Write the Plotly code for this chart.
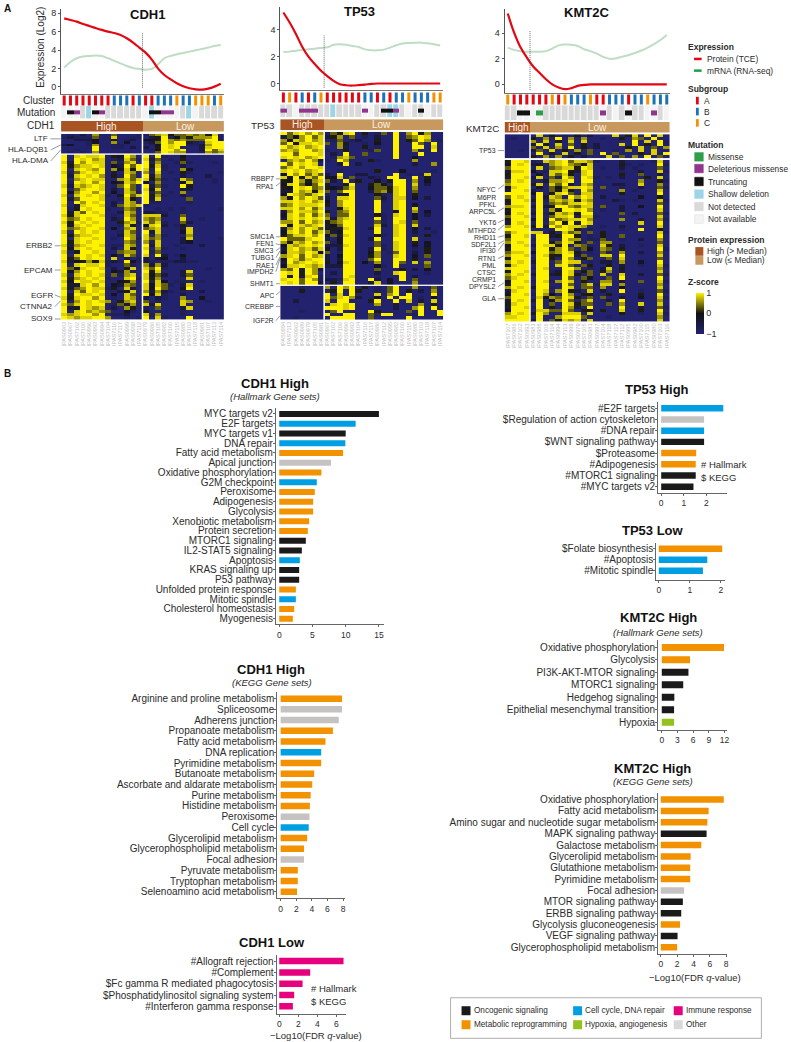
import plotly.graph_objects as go

W, H = 791, 1042

# ------------------------- DATA -------------------------
cdh1_samples = ["IPAS0963","IPAS0967","IPAS7102","IPAS7106","IPAS0996","IPAS0993","IPAS0994","IPAS7104","IPAS7116","IPAS7117","IPAS0999","IPAS0998","IPAS7112",
                "IPAS0979","IPAS0986","IPAS7105","IPAS0982","IPAS7100","IPAS7115","IPAS0980","IPAS7103","IPAS7118","IPAS0981","IPAS7107","IPAS7113","IPAS7114"]
tp53_samples = ["IPAS0994","IPAS7113","IPAS0963","IPAS0989","IPAS0979","IPAS7105","IPAS0981",
                "IPAS0967","IPAS7102","IPAS7106","IPAS0996","IPAS0993","IPAS7104","IPAS7116","IPAS7117","IPAS0986","IPAS7112","IPAS0995","IPAS0982","IPAS7100","IPAS7115","IPAS0980","IPAS7103","IPAS7118","IPAS7107","IPAS7114"]
kmt2c_samples = ["IPAS7107","IPAS0986","IPAS7102","IPAS0993",
                 "IPAS0983","IPAS0988","IPAS7106","IPAS7114","IPAS0994","IPAS7113","IPAS0999","IPAS0979","IPAS7105","IPAS0981","IPAS0997","IPAS7104","IPAS7118","IPAS7117","IPAS7112","IPAS0995","IPAS0982","IPAS7100","IPAS7115","IPAS0980","IPAS7103","IPAS7116"]

cdh1_protein = [7.46,7.28,7.1,6.85,6.63,6.41,6.2,6.01,5.87,5.65,5.29,4.82,4.28,3.73,2.97,1.99,1.3,0.83,0.4,0.07,-0.14,-0.25,-0.29,-0.18,0.04,0.36]
cdh1_mrna = [2.1,2.72,3.12,3.3,3.37,3.41,3.37,3.12,2.83,2.57,2.28,2.07,1.96,1.88,1.96,2.46,3.12,3.37,3.55,3.7,3.84,3.99,4.13,4.28,4.46,4.57]
tp53_protein = [5.3,4.55,3.7,2.75,2.0,1.45,0.95,0.55,0.2,-0.05,-0.13,-0.15,-0.12,-0.08,-0.03,0,0,0,0,0,0,0,0,0,0,0]
tp53_mrna = [2.36,2.38,2.45,2.5,2.55,2.6,2.65,2.7,2.9,2.93,2.9,2.8,2.72,2.55,2.48,2.48,2.53,2.68,2.85,2.98,3.03,3.05,3.05,3.0,2.93,2.83]
kmt2c_protein = [5.55,4.05,2.9,2.1,1.4,0.9,0.4,0,-0.25,-0.38,-0.3,-0.12,-0.05,0,0,0,0,0,0,0,0,0,0,0,0,0]
kmt2c_mrna = [2.88,2.7,2.6,2.55,2.55,2.55,2.6,2.8,3.05,3.12,3.1,3.0,2.75,2.6,2.4,2.15,2.0,2.03,2.17,2.3,2.45,2.65,2.88,3.15,3.47,3.87]

cdh1_cluster = "AAAAAAAABBBABAABBBCBBCCCBC"
tp53_cluster = "ACABABCAAAAAABBABABBCBBBCC"
kmt2c_cluster = "CAAAAAACACBBBCAABBBABBCBBB"

cdh1_mut_base = "WWWGLWWGGGGGGWLWWWWGLWGGGG"
cdh1_mut = ".TD..TD.......TTDD........"
tp53_mut_base = "GGWGGGGGLGGGGWWGGLLGWGGWGG"
tp53_mut = "D..DDD.......D..TTD...T..."
kmt2c_mut_base = "GGWWWWGGGGGGGGGWGWGWGGWWGW"
kmt2c_mut = "..TT.M.........D...T...D.."

# heat rows: digits 1 (navy, z=-1) .. 5 (black, z~0) .. 9 (yellow, z=+1)
cdh1_heat_top = [
"1213171161112 2678566767581","2322261181122 1359246577792","1133341151231 4459767666992",
"1111241171411 2369799321899","3411271122111 1249899223799","1111191122131 3159891113899",
"1121191111111 1249979113968","1212171111211 1169877112767"]
cdh1_heat_bot = [
"9189889 154 971 919 211 411 111 1","9198978 123 862 836 121 511 111 1","8397988 162 781 927 112 621 112 1",
"9578898 143 969 958 211 311 111 1","9189879 174 859 829 211 741 111 1","8268989 131 871 718 121 521 111 2",
"9389897 152 961 937 111 311 131 1","9178988 117 868 856 212 861 112 1","9298979 143 879 417 111 481 112 1",
"8387898 126 961 936 211 951 111 1","9168998 131 861 848 111 331 111 1","9479979 141 872 926 121 711 111 1",
"8189898 215 968 957 211 311 111 1","9369998 112 851 938 111 161 111 1","9197989 131 871 922 111 121 111 1",
"8138998 136 878 211 111 111 111 1","9259899 211 761 112 121 211 111 2","9386989 113 871 332 211 211 111 1",
"8589998 121 861 888 311 611 111 1","9679899 132 971 767 111 811 211 1","8598989 115 782 868 211 631 111 1",
"9389899 112 851 489 312 511 111 1","9678998 141 781 678 111 381 111 1","8198989 112 861 938 111 481 111 1",
"9578899 113 871 817 211 171 111 1","9189989 121 972 867 111 381 111 2","9589899 111 761 728 111 341 111 1",
"8378998 122 871 938 112 111 311 1","9489899 131 851 817 211 211 111 1","8259989 116 771 926 111 111 111 1",
"9189898 142 861 819 312 411 111 1","9569899 181 312 313 411 311 111 1","8345758 232 942 321 223 322 111 1",
"9289889 211 621 737 311 111 111 1","9658998 131 581 869 211 111 121 1","9479899 143 721 958 111 381 111 1",
"8289898 162 781 846 311 361 111 1","9578989 211 892 857 111 281 111 1","8498898 114 571 928 412 211 211 1",
"9338979 143 761 848 621 381 111 1","8567988 251 831 849 611 491 111 1","9186989 113 581 737 321 211 311 1",
"9398898 141 861 948 211 311 111 1","8589979 121 871 313 211 711 411 1","9279898 715 781 612 111 871 121 1",
"8689899 126 371 838 111 811 111 1","9359878 131 751 216 111 381 111 1","9189787 611 421 511 111 211 111 1",
"8789979 122 311 827 111 211 111 1","9878899 711 212 918 211 191 111 1"]
tp53_heat_top = [
"9689797 2658915126191795711","3647968 3571612131191679811","7487978 1261231151191569712","6958898 6175112141191196191",
"9789789 1173115121191199181","7879978 2115111261191171191","9969998 1319116111191119111","8989789 1278611111191141111",
"1787973 2197111521111171111","9698981 1139131111111131171","6897998 1111111111111111111","8989789 1121111151114111121",
"4979686 3191133111191212811","8495869 4481611321991191511","5497578 6319151141599171411","4896469 3125911565199181311",
"5498967 5436811466589171111","3397858 6169911367589161111","4987689 2135911152189151111","7497986 3188911163188141311",
"8898978 4179911192189111111","6798889 5179911191189141111","8897968 1158911191189181111","3798879 5167911191159171411",
"4897968 6166911152189141311","3898989 7378911192199141111","7796978 5679911162198161111","9498789 3469911183189181111",
"3797986 5538911391189141311","4897968 6349911191189131121","5688979 4638911152189121511","9666899 3149911391199181111",
"7587978 6249911161189151411","4878989 3338911162189141411","3897868 4139911392189121511","4887984 6129911471269131511",
"7896978 3149911571189141611","4986899 3139911691199151111","3978989 5148914171196181711","4889878 3339911142191111611",
"7693973 1119911161115131411","9895971 1319911131189111211","9393892 1119811121119131111","8996972 3328911931419161111",
"9896993 1519911381411171111"]
tp53_heat_bot = [
"1112111 7197915121691171161","1115111 1591951121691513171","1111111 9181911181791911191","1111111 9689731141919912141",
"1131111 8199111591191813181","1111111 1898911171131117151","1111111 9998911111131179191","1112111 1691111951111619119",
"1111111 9119911619911129119","1121111 1999911611111911111"]
kmt2c_heat_top = [
"1111 1815121513111815819181","1211 5171917171121151761911","1111 7181518181111111918192","1111 3951816151311181915192",
"1111 6181719151311115181617","1121 3618151716111217181811","1111 1915181516191611151819","1111 5171715131118161719161"]
kmt2c_heat_bot = [
"5998 2187896887 2111311112 81","4989 3517897658 1111521211 92","6999 2816788598 1211312111 61","3889 4128895389 1111211311 82",
"5999 1518685189 1111511611 31","3998 3816297198 2121311151 81","6989 2137789199 1111111711 52","7999 5818693187 1113311811 71",
"4899 1516478898 1611211311 62","3998 3116585197 1111712111 81","9999 4915896188 1111511111 91","6989 2938719798 1311111411 51",
"5998 5927878387 1113212111 82","3999 1916768898 1111111111 61","7889 3935997688 1611311411 91","5999 2917599897 1211311111 81",
"4989 3925878599 1111613111 62","6998 1916889288 2111111111 81","5999 4929678897 1111711311 72","3989 2917959398 1111111811 91",
"7998 5939798871 1211311111 81","9999 1112998512 1111211911 51","6899 8815186716 1511111111 82","5998 1993599512 1511611111 91",
"6999 2991197712 2611211311 71","7989 1995698516 1771111111 61","4998 3988591762 1851311211 81","5999 1995796164 1761511111 92",
"6889 4996798512 1621711311 71","7998 1985599361 1881911111 81","5999 2995197156 1161811111 61","7989 3991698812 1331711411 91",
"4899 1991896165 1151311211 82","8999 2981199712 1381511111 71","5998 1992398156 1571311111 81","7989 3993598516 1811811311 62",
"6899 1991196164 1161911111 91","4998 2982798151 1771311611 82","5999 1991196168 2881711111 71","7989 5992198166 1711411111 81",
"3899 1981795318 1311911211 62","4998 2974197155 1151111511 91","6999 1857698516 1611311411 82","3989 3914796168 1131911111 71",
"5899 1916198566 1161711811 81","3998 2915197319 1111911311 62","4999 1886696155 1511811511 91","7989 5971188818 1111511211 82",
"8899 1911799961 1121111111 71","9999 3916587818 1111111111 81"]

h1_labels = ["MYC targets v2","E2F targets","MYC targets v1","DNA repair","Fatty acid metabolism","Apical junction","Oxidative phosphorylation","G2M checkpoint","Peroxisome","Adipogenesis","Glycolysis","Xenobiotic metabolism","Protein secretion","MTORC1 signaling","IL2-STAT5 signaling","Apoptosis","KRAS signaling up","P53 pathway","Unfolded protein response","Mitotic spindle","Cholesterol homeostasis","Myogenesis"]
h1_values = [15.0,11.5,10.0,9.95,9.6,7.8,6.35,5.65,5.35,5.1,5.1,4.5,4.3,4.0,3.4,3.1,3.0,3.0,2.5,2.5,2.25,2.05]
h1_groups = "OCOCMXMCMMMMMOOCOOMCMM"
k1_labels = ["Arginine and proline metabolism","Spliceosome","Adherens junction","Propanoate metabolism","Fatty acid metabolism","DNA replication","Pyrimidine metabolism","Butanoate metabolism","Ascorbate and aldarate metabolism","Purine metabolism","Histidine metabolism","Peroxisome","Cell cycle","Glycerolipid metabolism","Glycerophospholipid metabolism","Focal adhesion","Pyruvate metabolism","Tryptophan metabolism","Selenoamino acid metabolism"]
k1_values = [7.87,7.87,7.45,6.7,5.75,5.2,5.2,4.3,4.05,3.85,3.75,3.7,3.6,3.4,3.0,3.0,2.2,2.2,2.1]
k1_groups = "MXXMMCMMMMMXCMMXMMM"
l1_labels = ["#Allograft rejection","#Complement","$Fc gamma R mediated phagocytosis","$Phosphatidylinositol signaling system","#Interferon gamma response"]
l1_values = [6.75,3.25,2.45,1.57,1.43]
l1_groups = "IIIII"
t_h_labels = ["#E2F targets","$Regulation of action cytoskeleton","#DNA repair","$WNT signaling pathway","$Proteasome","#Adipogenesis","#MTORC1 signaling","#MYC targets v2"]
t_h_values = [2.75,1.9,1.9,1.9,1.55,1.53,1.53,1.43]
t_h_groups = "CXCOMMOO"
t_l_labels = ["$Folate biosynthesis","#Apoptosis","#Mitotic spindle"]
t_l_values = [2.04,1.56,1.42]
t_l_groups = "MCC"
kh_labels = ["Oxidative phosphorylation","Glycolysis","PI3K-AKT-MTOR signaling","MTORC1 signaling","Hedgehog signaling","Epithelial mesenchymal transition","Hypoxia"]
kh_values = [11.9,5.4,5.1,4.1,2.4,2.35,2.35]
kh_groups = "MMOOOOH"
kk_labels = ["Oxidative phosphorylation","Fatty acid metabolism","Amino sugar and nucleotide sugar metabolism","MAPK signaling pathway","Galactose metabolism","Glycerolipid metabolism","Glutathione metabolism","Pyrimidine metabolism","Focal adhesion","MTOR signaling pathway","ERBB signaling pathway","Glycolysis gluconeogenesis","VEGF signaling pathway","Glycerophospholipid metabolism"]
kk_values = [7.7,5.85,5.7,5.6,4.95,3.65,3.6,3.6,2.85,2.7,2.5,2.35,2.05,2.0]
kk_groups = "MMMOMMMMXOOMOM"

# ------------------------- STYLE -------------------------
FONT = "Liberation Sans"
TXT = "#2b2b2b"
GROUP_COLORS = {"O":"#1a1a1a","C":"#009FE3","M":"#F39200","H":"#95C11F","I":"#E6007E","X":"#C6C2C2"}
CLUSTER_COLORS = {"A":"#E30613","B":"#1D71B8","C":"#F39200"}
RED, GREEN = "#E30613", "#BFDDC4"
HEAT = [[0,"#22226f"],[0.5,"#111111"],[1,"#FFF200"]]
GRAY, WHITE, LBLUE = "#D9D9D9", "#F3F3F3", "#9BD5E6"
GREEN_M, PURPLE, BLACK = "#2E9E48", "#90368F", "#111111"
HIGHC, LOWC = "#A85423", "#C8995F"
DIGIT_Z = {1:-1, 2:-0.8, 3:-0.5, 4:-0.2, 5:0.05, 6:0.35, 7:0.6, 8:0.85, 9:1}

fig = go.Figure()
layout = {}
shapes, notes = [], []
axis_n = [0]

def new_axes(x0, y0, x1, y1, xopts=None, yopts=None):
    axis_n[0] += 1
    n = axis_n[0]
    sx = "" if n == 1 else str(n)
    base = dict(showgrid=False, zeroline=False, showline=False, showticklabels=False, ticks="", fixedrange=True)
    xa = dict(base, domain=[x0/W, x1/W], anchor="y"+sx); xa.update(xopts or {})
    ya = dict(base, domain=[1-y1/H, 1-y0/H], anchor="x"+sx); ya.update(yopts or {})
    layout["xaxis"+sx] = xa
    layout["yaxis"+sx] = ya
    return "x"+sx, "y"+sx

def text(px, py, s, size=9, anchor="left", color=TXT, bold=False, angle=0):
    if bold: s = "<b>"+s+"</b>"
    notes.append(dict(xref="paper", yref="paper", x=px/W, y=1-py/H, text=s, showarrow=False,
                      xanchor=anchor, yanchor="middle", borderpad=0, textangle=angle,
                      font=dict(family=FONT, size=size, color=color)))

def rect(x0, y0, x1, y1, fill, line=None, lw=0):
    shapes.append(dict(type="rect", xref="paper", yref="paper", x0=x0/W, x1=x1/W, y0=1-y1/H, y1=1-y0/H,
                       fillcolor=fill, line=dict(color=line or fill, width=lw)))

def seg(x0, y0, x1, y1, color="#555555", width=0.6):
    shapes.append(dict(type="line", xref="paper", yref="paper", x0=x0/W, x1=x1/W, y0=1-y0/H, y1=1-y1/H,
                       line=dict(color=color, width=width)))

def to_z(rows):
    out = []
    for r in rows:
        r = r.replace(" ", "")[:26].ljust(26, r[-1])
        out.append([DIGIT_Z[int(c)] for c in r])
    return out

XR = [-0.5, 25.5]

def panel(title, title_x, left, right, nh, samples, protein, mrna, cluster, base, mut, top, bot, geo, scale_bar=False):
    cols = list(range(26))
    xa, ya = new_axes(left, geo["lt"], right, geo["lb"],
        dict(range=XR, showline=True, linecolor="#777777", linewidth=1.2),
        dict(range=geo["lr"], showline=True, linecolor="#555555", linewidth=1, ticks="outside", ticklen=2,
             tickcolor="#555555", showticklabels=True, tickvals=geo["lt_vals"],
             tickfont=dict(family=FONT, size=9, color=TXT)))
    fig.add_trace(go.Scatter(x=cols, y=mrna, mode="lines", xaxis=xa, yaxis=ya, line=dict(color=GREEN, width=2, shape="spline"), showlegend=False))
    fig.add_trace(go.Scatter(x=cols, y=protein, mode="lines", xaxis=xa, yaxis=ya, line=dict(color=RED, width=2.2, shape="spline"), showlegend=False))
    shapes.append(dict(type="line", xref=xa, x0=nh-0.5, x1=nh-0.5, yref=ya+" domain", y0=geo["dash"][0], y1=geo["dash"][1],
                       line=dict(color="#444444", width=0.8, dash="1px,1px")))
    text(title_x, geo["ty"], title, 13, "center", "#111111", True)
    xa, ya = new_axes(left, geo["cy"]-5, right, geo["cy"]+5, dict(range=XR), dict(range=[-1, 1]))
    fig.add_trace(go.Scatter(x=cols, y=[0]*26, mode="markers", xaxis=xa, yaxis=ya, showlegend=False,
        marker=dict(symbol="line-ns", size=8, line=dict(width=3, color=[CLUSTER_COLORS[c] for c in cluster]))))
    xa, ya = new_axes(left, geo["mt"], right, geo["mb"], dict(range=XR), dict(range=[0, 3]))
    edges = [i-0.5 for i in range(27)]
    fig.add_trace(go.Heatmap(x=edges, y=[0, 3], z=[[{"G":0,"W":1,"L":2}[c] for c in base]], xaxis=xa, yaxis=ya, zmin=0, zmax=2,
        xgap=1, showscale=False, colorscale=[[0,GRAY],[0.5,WHITE],[1,LBLUE]]))
    fig.add_trace(go.Heatmap(x=edges, y=[1.05, 1.95], z=[[{"M":0,"D":1,"T":2}.get(c) for c in mut]], xaxis=xa, yaxis=ya, zmin=0, zmax=2,
        showscale=False, colorscale=[[0,GREEN_M],[0.5,PURPLE],[1,BLACK]]))
    xa, ya = new_axes(left, geo["bt"], right, geo["bb"], dict(range=XR), dict(range=[0, 1]))
    fig.add_trace(go.Heatmap(x=edges, y=[0, 1], z=[[1 if i < nh else 0 for i in cols]], xaxis=xa, yaxis=ya, zmin=0, zmax=1,
        showscale=False, colorscale=[[0,LOWC],[1,HIGHC]]))
    text(geo["hx"], (geo["bt"]+geo["bb"])/2, "High", 10, "center", "#FBEFE2")
    text(geo["lx"], (geo["bt"]+geo["bb"])/2, "Low", 10, "center", "#FBEFE2")
    ztop, zbot = to_z(top), to_z(bot)
    xa, ya = new_axes(left, geo["h1t"], right, geo["h1b"], dict(range=XR), dict(range=[len(ztop)-0.5, -0.5]))
    fig.add_trace(go.Heatmap(x=cols, y=list(range(len(ztop))), z=ztop, xaxis=xa, yaxis=ya, zmin=-1, zmax=1, colorscale=HEAT, showscale=False))
    shapes.append(dict(type="line", xref=xa, x0=nh-0.5, x1=nh-0.5, yref=ya+" domain", y0=0, y1=1, line=dict(color="white", width=1.5)))
    cb = dict(x=699/W, xanchor="left", y=1-333/H, yanchor="bottom", lenmode="pixels", len=41, thicknessmode="pixels", thickness=8,
              tickvals=[-1,0,1], ticktext=["−1","0","1"], ticks="", outlinewidth=0, xpad=0, ypad=0,
              tickfont=dict(family=FONT, size=9, color=TXT))
    xa, ya = new_axes(left, geo["h2t"], right, geo["h2b"],
        dict(range=XR, showticklabels=True, tickmode="array", tickvals=cols, ticktext=samples, tickangle=-90,
             tickfont=dict(family=FONT, size=5.6, color="#BDBDBD"), ticklen=0),
        dict(range=[len(zbot)-0.5, -0.5]))
    fig.add_trace(go.Heatmap(x=cols, y=list(range(len(zbot))), z=zbot, xaxis=xa, yaxis=ya, zmin=-1, zmax=1, colorscale=HEAT,
                             showscale=scale_bar, colorbar=cb if scale_bar else None))
    shapes.append(dict(type="line", xref=xa, x0=nh-0.5, x1=nh-0.5, yref=ya+" domain", y0=0, y1=1, line=dict(color="white", width=1.5)))

panel("CDH1", 147.7, 61.3, 224.7, 13, cdh1_samples, cdh1_protein, cdh1_mrna, cdh1_cluster, cdh1_mut_base, cdh1_mut, cdh1_heat_top, cdh1_heat_bot,
      dict(lt=8.3, lb=92.7, lr=[-0.72, 8.44], lt_vals=[0,2,4,6,8], dash=[0.07, 0.72], ty=13.7, cy=99.7, mt=105, mb=117.7, bt=120, bb=130.7,
           hx=106.7, lx=186, h1t=133, h1b=152.7, h2t=153.7, h2b=319))
panel("TP53", 360.7, 281.3, 445, 7, tp53_samples, tp53_protein, tp53_mrna, tp53_cluster, tp53_mut_base, tp53_mut, tp53_heat_top, tp53_heat_bot,
      dict(lt=6, lb=89.3, lr=[-0.5, 5.71], lt_vals=[0,2,4], dash=[0.03, 0.66], ty=11, cy=96.7, mt=103.3, mb=116, bt=118.3, bb=129.3,
           hx=303.7, lx=383.3, h1t=131, h1b=284, h2t=285, h2b=319))
panel("KMT2C", 589, 506.5, 672.5, 4, kmt2c_samples, kmt2c_protein, kmt2c_mrna, kmt2c_cluster, kmt2c_mut_base, kmt2c_mut, kmt2c_heat_top, kmt2c_heat_bot,
      dict(lt=8.3, lb=91.7, lr=[-0.65, 5.88], lt_vals=[0,2,4], dash=[0.03, 0.74], ty=12, cy=98.7, mt=104.3, mb=119.3, bt=121, bb=131.7,
           hx=520, lx=599.3, h1t=133.3, h1b=157.7, h2t=159, h2b=320.7), scale_bar=True)

text(3, 8, "A", 10, "left", "#111111", True)
text(3, 373, "B", 10, "left", "#111111", True)
text(41, 46, "Expression (Log2)", 10, "center", TXT, angle=-90)
for lab, y in (("Cluster", 99.7), ("Mutation", 112), ("CDH1", 125)):
    text(56.7, y, lab, 10, "right")
text(276.7, 125, "TP53", 9.8, "right")
text(502, 128, "KMT2C", 9.8, "right")

for g, ty, hy, tx in (("LTF",138,138,49.5),("HLA-DQB1",149,144,50),("HLA-DMA",160,149,50),("ERBB2",245,245,54),("EPCAM",269.3,269.3,54),
                      ("EGFR",294.3,296.5,54),("CTNNA2",306,300,54),("SOX9",318.3,318.3,54)):
    text(tx, ty, g, 8, "right")
    seg(tx+1, ty, 61, hy)
for g, ty, hy in (("RBBP7",178,178),("RPA1",185.3,182),("SMC1A",236,236),("FEN1",243,244),("SMC3",250,247),("TUBG1",257,250),("RAE1",264.3,256),
                  ("IMPDH2",271,258),("SHMT1",283,283),("APC",294.3,291),("CREBBP",305.7,305.7),("IGF2R",320,315)):
    text(276, ty, g, 7, "right")
    seg(277, ty, 281, hy)
for g, ty, hy in (("TP53",149.7,149.7),("NFYC",188.3,184),("M6PR",196.3,196),("PFKL",203.7,203),("ARPC5L",210.7,207),("YKT6",221.7,219),("MTHFD2",229.3,224),
                  ("RHD11",236.3,235),("SDF2L1",243.3,240),("IFI30",250,242),("RTN1",257.7,255),("PML",265,265),("CTSC",271.7,271.7),("CRMP1",278.7,278.7),
                  ("DPYSL2",286,282),("GLA",298,298)):
    text(499.3, ty, g, 6.9, "right")
    if g not in ("M6PR","PFKL","PML","CTSC","CRMP1"):
        seg(500, ty, 506, hy)

text(689.7, 45.7, "Expression", 8.5, bold=True)
seg(696.7, 58, 704.3, 58, RED, 2.5); text(708.7, 58, "Protein (TCE)", 8.4)
seg(696.7, 69.7, 704.3, 69.7, "#16A34A", 2.5); text(708.7, 69.7, "mRNA (RNA-seq)", 8.4)
text(689.7, 88.3, "Subgroup", 8.5, bold=True)
for lab, k, y in (("A","A",99.7),("B","B",110.7),("C","C",122)):
    seg(700, y-3.8, 700, y+3.8, CLUSTER_COLORS[k], 2.8); text(706, y, lab, 8.4)
text(689.7, 144, "Mutation", 8.5, bold=True)
for lab, c, y in (("Missense",GREEN_M,156),("Deleterious missense",PURPLE,167.7),("Truncating",BLACK,180.7),("Shallow deletion",LBLUE,193.3),
                  ("Not detected",GRAY,205.7),("Not available",WHITE,218.3)):
    rect(697.3, y-4.3, 706, y+4.3, c, "#DDDDDD" if c == WHITE else c, 0.5); text(710, y, lab, 8.4)
text(689.7, 239.3, "Protein expression", 8.5, bold=True)
rect(698, 246.3, 706, 255, HIGHC); text(709, 250.7, "High (> Median)", 8.4)
rect(698, 255.3, 706, 264, LOWC); text(709, 259.7, "Low (≤ Median)", 8.4)
text(689.7, 281.3, "Z-score", 8.5, bold=True)

def bars(labels, values, groups, left, top, right, bottom, zero, k, first, step, bh, tickv):
    n = len(labels)
    xa, ya = new_axes(left, top, right, bottom,
        dict(range=[(left-zero)/k, (right-zero)/k], showline=True, linecolor="#666666", linewidth=1, ticks="outside", ticklen=2, tickcolor="#666666",
             showticklabels=True, tickvals=tickv, tickfont=dict(family=FONT, size=8.5, color=TXT)),
        dict(range=[(bottom-first)/step, (top-first)/step], showline=True, linecolor="#666666", linewidth=1, ticks="outside", ticklen=2, tickcolor="#666666",
             showticklabels=True, tickmode="array", tickvals=list(range(n)), ticktext=labels, ticklabelstandoff=-2,
             tickfont=dict(family=FONT, size=10, color=TXT)))
    fig.add_trace(go.Bar(x=values, y=list(range(n)), orientation="h", width=bh/step, xaxis=xa, yaxis=ya, showlegend=False,
                         marker=dict(color=[GROUP_COLORS[g] for g in groups], line=dict(width=0))))

bars(h1_labels, h1_values, h1_groups, 277, 407, 385, 624, 280.3, 6.67, 413.3, 9.76, 6, [0,5,10,15])
text(275.7, 382.7, "CDH1 High", 13, "center", "#111111", True)
text(275.7, 396, "<i>(Hallmark Gene sets)</i>", 9.5, "center")

bars(k1_labels, k1_values, k1_groups, 278.3, 691.7, 346.7, 898.3, 281.7, 7.83, 698.3, 10.74, 6.5, [0,2,4,6,8])
text(272, 669, "CDH1 High", 13, "center", "#111111", True)
text(272.7, 682, "<i>(KEGG Gene sets)</i>", 9.5, "center")

bars(l1_labels, l1_values, l1_groups, 277.7, 955, 347.7, 1014, 280.3, 9.56, 961, 11.33, 6.5, [0,2,4,6])
text(273, 942, "CDH1 Low", 13, "center", "#111111", True)
text(310.7, 988, "# Hallmark", 9.5); text(310.7, 1001.7, "$ KEGG", 9.5)
text(317, 1035.7, "−Log10(FDR <i>q</i>-value)", 9.5, "center")

bars(t_h_labels, t_h_values, t_h_groups, 660.7, 401.7, 729.3, 492.3, 663.7, 22.67, 407.7, 11.2, 6.5, [0,1,2])
text(659, 389, "TP53 High", 13, "center", "#111111", True)
text(703, 463.7, "# Hallmark", 9.5); text(703, 477, "$ KEGG", 9.5)

bars(t_l_labels, t_l_values, t_l_groups, 658.7, 542.3, 727.3, 579.3, 661.3, 31.2, 548.3, 11, 6.5, [0,1,2])
text(655, 529.7, "TP53 Low", 13, "center", "#111111", True)

bars(kh_labels, kh_values, kh_groups, 660.7, 640, 729.3, 729.3, 664.3, 5.25, 647, 12.5, 7, [0,3,6,9,12])
text(660.7, 617.3, "KMT2C High", 13, "center", "#111111", True)
text(660.7, 632.3, "<i>(Hallmark Gene sets)</i>", 9.5, "center")

bars(kk_labels, kk_values, kk_groups, 660.7, 792.7, 729.3, 954, 663.3, 8.21, 799.3, 11.38, 6.5, [0,2,4,6,8])
text(655, 768, "KMT2C High", 13, "center", "#111111", True)
text(655, 781.7, "<i>(KEGG Gene sets)</i>", 9.5, "center")
text(698, 977, "−Log10(FDR <i>q</i>-value)", 9.5, "center")

rect(452.3, 997.7, 764.3, 1038.3, "white", "#999999", 0.8)
for lab, k, x, y in (("Oncogenic signaling","O",463.3,1010.7),("Metabolic reprogramming","M",463.3,1024.7),("Cell cycle, DNA repair","C",575.3,1010.7),
                     ("Hypoxia, angiogenesis","H",575.3,1024.7),("Immune response","I",676.3,1010.7),("Other","X",676.3,1024.7)):
    rect(x, y-4.5, x+9, y+4.5, GROUP_COLORS[k] if k != "X" else "#D9D9D9")
    text(x+11.4, y, lab, 8.2)

fig.update_layout(width=W, height=H, margin=dict(l=0, r=0, t=0, b=0), paper_bgcolor="white", plot_bgcolor="white",
                  showlegend=False, shapes=shapes, annotations=notes, font=dict(family=FONT, color=TXT), **layout)
fig.write_html("out.html", post_script="document.body.style.margin='0';", config={"displayModeBar": False})
